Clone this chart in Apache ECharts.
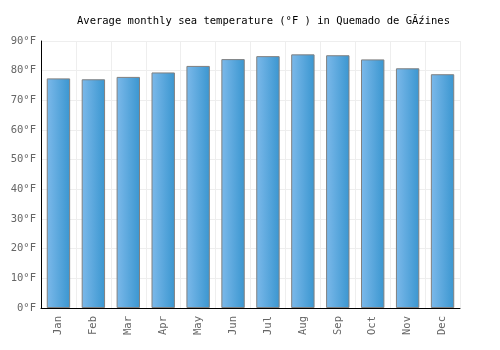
<!DOCTYPE html>
<html>
<head>
<meta charset="utf-8">
<script src="https://cdn.jsdelivr.net/npm/echarts@6/dist/echarts.min.js"></script>
<style>
  html, body { margin: 0; padding: 0; background: #fff; }
  #chart { width: 500px; height: 350px; }
</style>
</head>
<body>
<div id="chart"></div>
<script>
var titleText = 'Average monthly sea temperature (°F ) in Quemado de GĂźines';
var months = ['Jan', 'Feb', 'Mar', 'Apr', 'May', 'Jun', 'Jul', 'Aug', 'Sep', 'Oct', 'Nov', 'Dec'];
var seaTemp = [77.4, 77.1, 77.9, 79.4, 81.6, 83.9, 84.9, 85.5, 85.2, 83.8, 80.8, 78.8];
var yTicks = [0, 10, 20, 30, 40, 50, 60, 70, 80, 90];

var font = '"DejaVu Sans Mono", monospace';

var chart = echarts.init(document.getElementById('chart'));
chart.setOption({
    animation: false,
    title: {
        text: titleText,
        left: 72,
        top: 11,
        textStyle: { fontFamily: font, fontSize: 10.5, fontWeight: 'normal', color: '#000' }
    },
    grid: { left: 41, right: 40, top: 41, bottom: 42 },
    xAxis: {
        type: 'category',
        data: months,
        axisLine: { lineStyle: { color: '#000', width: 1 } },
        axisTick: { show: false },
        splitLine: { show: true, lineStyle: { color: '#eeeeee' } },
        axisLabel: { rotate: 90, fontFamily: font, fontSize: 10.5, color: '#666', margin: 8 }
    },
    yAxis: {
        type: 'value',
        min: yTicks[0],
        max: yTicks[yTicks.length - 1],
        interval: 10,
        axisLine: { show: true, lineStyle: { color: '#000', width: 1 } },
        axisTick: { show: false },
        splitLine: { lineStyle: { color: '#eeeeee' } },
        axisLabel: { formatter: '{value}°F', fontFamily: font, fontSize: 10.5, color: '#666', margin: 5 }
    },
    series: [{
        type: 'bar',
        data: seaTemp,
        barCategoryGap: '33%',
        itemStyle: {
            color: new echarts.graphic.LinearGradient(0, 0, 1, 0, [
                { offset: 0, color: '#7cb9ea' },
                { offset: 1, color: '#3a96d0' }
            ]),
            borderColor: '#808080',
            borderWidth: 1
        }
    }]
});
</script>
</body>
</html>
